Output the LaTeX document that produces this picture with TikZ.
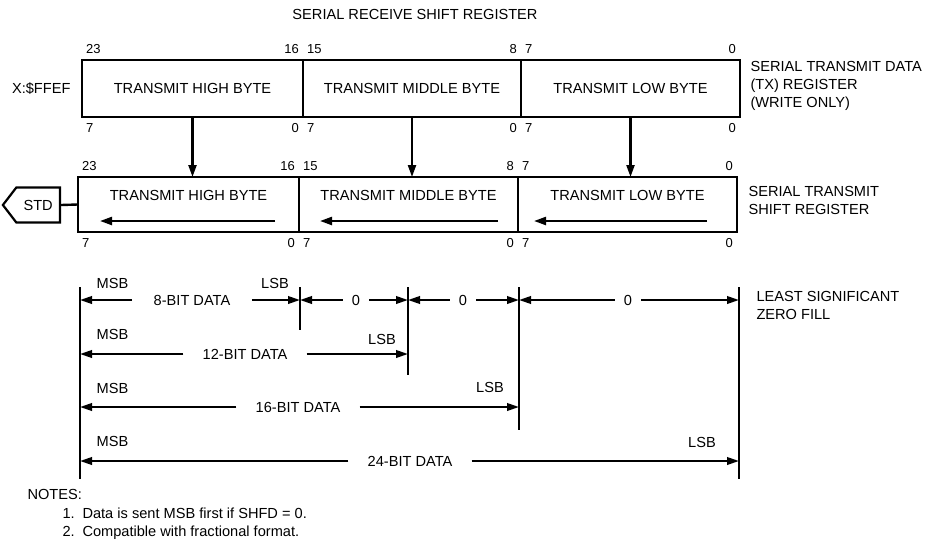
\documentclass[tikz,border=0pt]{standalone}
\usepackage{fontspec}
\setmainfont{Liberation Sans}
\usetikzlibrary{arrows.meta, positioning, shapes.symbols}

\begin{document}
\begin{tikzpicture}[x=1pt, y=-1pt,
  font=\fontsize{14.6}{18}\selectfont,
  reg/.style={draw, line width=2.6pt, minimum height=57pt, inner sep=0pt, outer sep=0pt},
  bit/.style={font=\fontsize{13}{14}\selectfont, inner xsep=4pt, inner ysep=6pt},
  tag/.style={align=left, anchor=west},
  flow/.style={-{Triangle[length=12pt, width=8pt]}, line width=2.2pt},
  dim/.style={-{Triangle[length=12pt, width=7.5pt]}, line width=2.2pt},
  wall/.style={line width=2.4pt},
  dlabel/.style={inner xsep=19pt, inner ysep=0pt},
  zlabel/.style={inner xsep=9pt, inner ysep=0pt},
  sig/.style={anchor=center, inner sep=0pt}
]
\useasboundingbox (0,0) rectangle (927,544);

% TX data register
\node (title) at (415,14) {SERIAL RECEIVE SHIFT REGISTER};
\node[reg, minimum width=221pt,
      label={[bit, anchor=south west]north west:23}, label={[bit, anchor=south east]north east:16},
      label={[bit, anchor=north west]south west:7}, label={[bit, anchor=north east]south east:0}]
      (thi) at (192.5,88.5) {TRANSMIT HIGH BYTE};
\node[reg, minimum width=218pt, right=0pt of thi,
      label={[bit, anchor=south west]north west:15}, label={[bit, anchor=south east]north east:8},
      label={[bit, anchor=north west]south west:7}, label={[bit, anchor=north east]south east:0}]
      (tmid) {TRANSMIT MIDDLE BYTE};
\node[reg, minimum width=219pt, right=0pt of tmid,
      label={[bit, anchor=south west]north west:7}, label={[bit, anchor=south east]north east:0},
      label={[bit, anchor=north west]south west:7}, label={[bit, anchor=north east]south east:0}]
      (tlo) {TRANSMIT LOW BYTE};
\node[left=8pt of thi] (addr) {X:\$FFEF};
\node[tag, right=7pt of tlo, yshift=3pt] (txtag) {SERIAL TRANSMIT DATA\\(TX) REGISTER\\(WRITE ONLY)};

% shift register
\node[reg, minimum width=221pt, minimum height=55pt,
      label={[yshift=9.5pt]center:TRANSMIT HIGH BYTE},
      label={[bit, anchor=south west]north west:23}, label={[bit, anchor=south east]north east:16},
      label={[bit, anchor=north west]south west:7}, label={[bit, anchor=north east]south east:0}]
      (shi) at (188.5,204.5) {};
\node[reg, minimum width=219pt, minimum height=55pt, right=0pt of shi,
      label={[yshift=9.5pt]center:TRANSMIT MIDDLE BYTE},
      label={[bit, anchor=south west]north west:15}, label={[bit, anchor=south east]north east:8},
      label={[bit, anchor=north west]south west:7}, label={[bit, anchor=north east]south east:0}]
      (smid) {};
\node[reg, minimum width=219pt, minimum height=55pt, right=0pt of smid,
      label={[yshift=9.5pt]center:TRANSMIT LOW BYTE},
      label={[bit, anchor=south west]north west:7}, label={[bit, anchor=south east]north east:0},
      label={[bit, anchor=north west]south west:7}, label={[bit, anchor=north east]south east:0}]
      (slo) {};
\node[tag, right=8pt of slo, yshift=4pt] (srtag) {SERIAL TRANSMIT\\SHIFT REGISTER};
\node[draw, signal, signal to=west, signal from=nowhere, signal pointer angle=105,
      line width=2.2pt, minimum width=57pt, minimum height=35pt, inner sep=2pt, anchor=east]
      (std) at (61,205) {STD};

\draw[wall] (std.east) -- (shi.west);
\draw[flow] (thi.south) -- (thi.south |- shi.north);
\draw[flow] (tmid.south) -- (tmid.south |- smid.north);
\draw[flow] (tlo.south) -- (tlo.south |- slo.north);
\draw[flow] ([xshift=-24pt, yshift=-16.5pt]shi.east) -- ([xshift=22pt, yshift=-16.5pt]shi.west);
\draw[flow] ([xshift=-20pt, yshift=-16.5pt]smid.east) -- ([xshift=21pt, yshift=-16.5pt]smid.west);
\draw[flow] ([xshift=-30pt, yshift=-16.5pt]slo.east) -- ([xshift=16pt, yshift=-16.5pt]slo.west);

% data formats
\coordinate (w0)  at (80,287);  \coordinate (w0b)  at (80,479);
\coordinate (w8)  at (300,287); \coordinate (w8b)  at (300,330);
\coordinate (w12) at (408,287); \coordinate (w12b) at (408,375);
\coordinate (w16) at (519,287); \coordinate (w16b) at (519,430);
\coordinate (w24) at (739,287); \coordinate (w24b) at (739,479);
\draw[wall] (w0) -- (w0b);
\draw[wall] (w8) -- (w8b);
\draw[wall] (w12) -- (w12b);
\draw[wall] (w16) -- (w16b);
\draw[wall] (w24) -- (w24b);

\node[dlabel, inner xsep=21.5pt] (d8) at (192,300) {8-BIT DATA};
\node[zlabel] (z1) at (356,300) {0};
\node[zlabel] (z2) at (463,300) {0};
\node[zlabel] (z3) at (628,300) {0};
\node[dlabel] (d12) at (245,354) {12-BIT DATA};
\node[dlabel] (d16) at (298,407) {16-BIT DATA};
\node[dlabel] (d24) at (410,461) {24-BIT DATA};
\draw[dim] (d8) -- (d8 -| w0);   \draw[dim] (d8) -- (d8 -| w8);
\draw[dim] (z1) -- (z1 -| w8);   \draw[dim] (z1) -- (z1 -| w12);
\draw[dim] (z2) -- (z2 -| w12);  \draw[dim] (z2) -- (z2 -| w16);
\draw[dim] (z3) -- (z3 -| w16);  \draw[dim] (z3) -- (z3 -| w24);
\draw[dim] (d12) -- (d12 -| w0); \draw[dim] (d12) -- (d12 -| w12);
\draw[dim] (d16) -- (d16 -| w0); \draw[dim] (d16) -- (d16 -| w16);
\draw[dim] (d24) -- (d24 -| w0); \draw[dim] (d24) -- (d24 -| w24);

\node[sig] (msb8)  at (112.5,283) {MSB};
\node[sig] (lsb8)  at (275,283) {LSB};
\node[sig] (msb12) at (112.5,334) {MSB};
\node[sig] (lsb12) at (382,339) {LSB};
\node[sig] (msb16) at (112.5,388) {MSB};
\node[sig] (lsb16) at (490,387) {LSB};
\node[sig] (msb24) at (112.5,441) {MSB};
\node[sig] (lsb24) at (702,442) {LSB};
\node[tag] (zfill) at (753,305.5) {LEAST SIGNIFICANT\\ZERO FILL};

\node[anchor=north west, align=left, font=\fontsize{14.6}{18.5}\selectfont] (notes) at (24,486)
  {NOTES:\\
   \hspace*{35pt}\makebox[20pt][l]{1.}Data is sent MSB first if SHFD = 0.\\
   \hspace*{35pt}\makebox[20pt][l]{2.}Compatible with fractional format.};
\end{tikzpicture}
\end{document}
